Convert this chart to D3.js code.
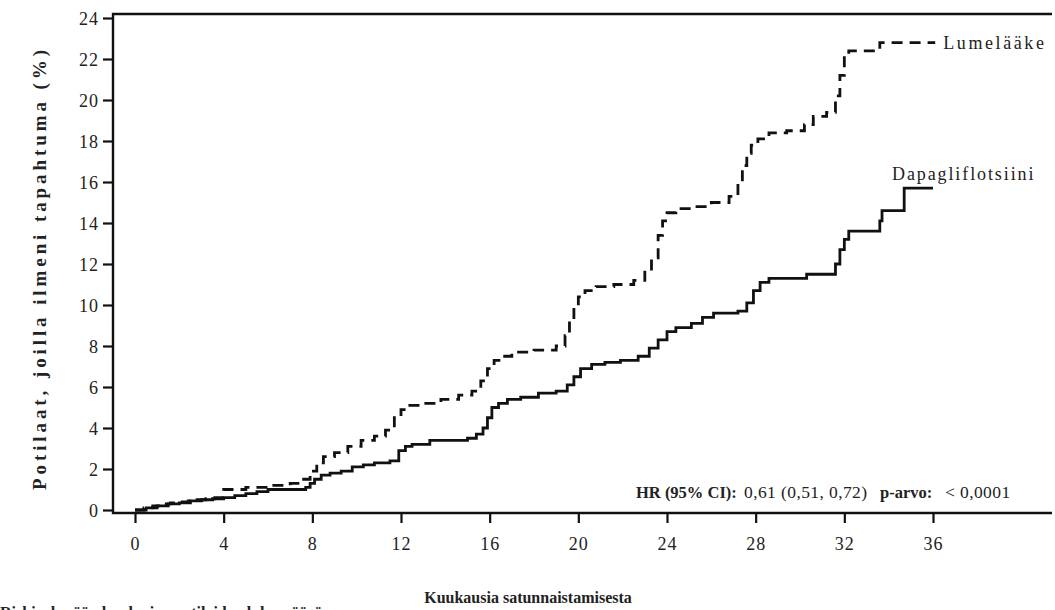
<!DOCTYPE html>
<html>
<head>
<meta charset="utf-8">
<script src="https://cdn.jsdelivr.net/npm/d3@7"></script>
<style>
  body { margin: 0; background: #fff; }
  svg { display: block; }
  text { font-family: "Liberation Serif", "Times New Roman", serif; fill: #222; }
</style>
</head>
<body>
<svg id="chart" width="1055" height="610"></svg>
<script>
// Tick values
const xTicks = [0, 4, 8, 12, 16, 20, 24, 28, 32, 36];
const yTicks = [0, 2, 4, 6, 8, 10, 12, 14, 16, 18, 20, 22, 24];

// Kaplan–Meier cumulative incidence, dapagliflozin arm (months, %)
const dapaMonths = [0, 0.5, 1, 1.5, 2, 2.5, 3, 3.5, 4, 4.5, 5, 5.5, 6, 7.7, 7.9, 8.1, 8.4, 8.8, 9.3, 9.8,
  10.3, 10.8, 11.5, 11.9, 12.2, 12.5, 13.3, 15.0, 15.4, 15.7, 15.9, 16.1, 16.4, 16.8, 17.4, 18.2, 19.0, 19.5, 19.8, 20.1,
  20.6, 21.2, 21.9, 22.7, 23.2, 23.6, 24.0, 24.4, 25.1, 25.6, 26.1, 27.2, 27.6, 27.9, 28.2, 28.6, 30.3, 31.6, 31.8, 32.0,
  32.2, 33.6, 33.7, 34.7, 36.0];
const dapaPct = [0, 0.1, 0.2, 0.3, 0.35, 0.45, 0.5, 0.55, 0.6, 0.7, 0.8, 0.9, 1.0, 1.1, 1.3, 1.5, 1.7, 1.8, 1.9, 2.1,
  2.2, 2.3, 2.4, 2.9, 3.1, 3.2, 3.4, 3.5, 3.7, 4.0, 4.5, 5.0, 5.2, 5.4, 5.5, 5.7, 5.8, 6.1, 6.5, 6.9,
  7.1, 7.2, 7.3, 7.5, 7.9, 8.3, 8.7, 8.9, 9.1, 9.4, 9.6, 9.7, 10.1, 10.7, 11.1, 11.3, 11.5, 12.0, 12.7, 13.2,
  13.6, 14.1, 14.6, 15.7, 15.7];

// Placebo arm (months, %)
const placeboMonths = [0, 0.4, 0.8, 1.2, 1.6, 2.0, 2.4, 2.8, 3.2, 3.6, 4.0, 5.0, 6.0, 7.0, 7.5, 7.9, 8.2, 8.5, 9.0, 9.6,
  10.2, 10.8, 11.3, 11.7, 12.0, 12.3, 13.0, 13.8, 14.6, 15.2, 15.6, 15.9, 16.2, 16.5, 17.0, 18.0, 19.0, 19.4, 19.6, 19.8,
  20.0, 20.3, 20.8, 21.6, 22.5, 23.0, 23.3, 23.6, 23.8, 24.0, 24.4, 25.2, 26.0, 26.8, 27.2, 27.4, 27.6, 27.8, 28.1, 28.6,
  29.4, 30.2, 30.6, 31.2, 31.6, 31.8, 32.0, 32.2, 33.6, 36.1];
const placeboPct = [0, 0.1, 0.2, 0.3, 0.35, 0.4, 0.45, 0.5, 0.55, 0.6, 1.0, 1.1, 1.2, 1.3, 1.5, 1.9, 2.3, 2.6, 2.8, 3.1,
  3.4, 3.6, 3.9, 4.5, 4.9, 5.1, 5.2, 5.4, 5.6, 5.8, 6.3, 6.9, 7.3, 7.5, 7.7, 7.8, 8.0, 8.5, 9.2, 9.9,
  10.4, 10.7, 10.9, 11.0, 11.2, 11.6, 12.3, 13.4, 14.1, 14.5, 14.7, 14.8, 15.0, 15.3, 16.0, 16.8, 17.4, 17.8, 18.1, 18.4,
  18.5, 18.8, 19.2, 19.4, 20.2, 21.2, 22.2, 22.4, 22.8, 22.8];

const seriesNames = { placebo: "Lumelääke", dapa: "Dapagliflotsiini" };
const yTitle = "Potilaat, joilla ilmeni tapahtuma (%)";
const xTitle = "Kuukausia satunnaistamisesta";
const riskTitle = "Riskiryhmään kuuluvien potilaiden lukumäärä";
const hrParts = [
  { t: "HR (95% CI):", bold: true },
  { t: "0,61 (0,51, 0,72)", bold: false },
  { t: "p-arvo:", bold: true },
  { t: "< 0,0001", bold: false }
];

const svg = d3.select("#chart");
const frame = { left: 113, top: 14, right: 1052, bottom: 513 };

const x = d3.scaleLinear().domain([0, 36]).range([135, 933]);
const y = d3.scaleLinear().domain([0, 24]).range([510, 18]);

// Frame lines: left axis, top rule, bottom axis
const ink = "#111";
svg.append("path")
  .attr("d", `M${frame.right},${frame.top}H${frame.left}V${frame.bottom}H${frame.right}`)
  .attr("fill", "none").attr("stroke", ink).attr("stroke-width", 2.4);

// Y axis
const yAxis = svg.append("g").attr("transform", `translate(${frame.left},0)`)
  .call(d3.axisLeft(y).tickValues(yTicks).tickSize(10).tickSizeOuter(0).tickPadding(4));
yAxis.select(".domain").remove();
yAxis.selectAll(".tick line").attr("stroke", ink).attr("stroke-width", 2.2);
yAxis.selectAll(".tick text")
  .attr("font-family", "Liberation Serif, serif").attr("font-size", 18)
  .attr("fill", "#333").attr("letter-spacing", 1).attr("dy", "0.34em");

// X axis
const xAxis = svg.append("g").attr("transform", `translate(0,${frame.bottom})`)
  .call(d3.axisBottom(x).tickValues(xTicks).tickSize(10).tickSizeOuter(0).tickPadding(14));
xAxis.select(".domain").remove();
xAxis.selectAll(".tick line").attr("stroke", ink).attr("stroke-width", 2.2);
xAxis.selectAll(".tick text")
  .attr("font-family", "Liberation Serif, serif").attr("font-size", 18)
  .attr("fill", "#333").attr("letter-spacing", 1);

// Step curves
const line = d3.line().x(d => x(d[0])).y(d => y(d[1])).curve(d3.curveStepAfter);
const dapa = dapaMonths.map((m, i) => [m, dapaPct[i]]);
const placebo = placeboMonths.map((m, i) => [m, placeboPct[i]]);

svg.append("path").datum(dapa).attr("d", line)
  .attr("fill", "none").attr("stroke", ink).attr("stroke-width", 2.8);
svg.append("path").datum(placebo).attr("d", line)
  .attr("fill", "none").attr("stroke", ink).attr("stroke-width", 2.8)
  .attr("stroke-dasharray", "11,7");

// Curve labels
const lastP = placebo[placebo.length - 1];
svg.append("text").attr("x", x(lastP[0]) + 8).attr("y", y(lastP[1]) + 6)
  .attr("font-size", 18).attr("letter-spacing", 2.6).text(seriesNames.placebo);
const lastD = dapa[dapa.length - 1];
svg.append("text").attr("x", x(34.15)).attr("y", y(lastD[1]) - 8)
  .attr("font-size", 18).attr("letter-spacing", 1.9).text(seriesNames.dapa);

// Hazard ratio annotation
const hrX = [636, 744, 880, 945];
const hr = svg.append("text").attr("y", 498);
hrParts.forEach((p, i) => {
  hr.append("tspan").attr("x", hrX[i])
    .attr("font-size", p.bold ? 16.5 : 17.5)
    .attr("letter-spacing", p.bold ? 0 : 0.4)
    .attr("font-weight", p.bold ? "bold" : "normal").text(p.t);
});

// Axis titles
svg.append("text")
  .attr("transform", "translate(46,270) rotate(-90)")
  .attr("text-anchor", "middle").attr("font-size", 19).attr("font-weight", "bold")
  .attr("textLength", 440).attr("lengthAdjust", "spacing")
  .text(yTitle);
svg.append("text")
  .attr("x", 528).attr("y", 603).attr("text-anchor", "middle")
  .attr("font-size", 16).attr("font-weight", "bold").text(xTitle);

// Number-at-risk heading, continuing below the visible area
svg.append("text")
  .attr("x", 0).attr("y", 618).attr("font-size", 16).attr("font-weight", "bold")
  .text(riskTitle);
</script>
</body>
</html>
